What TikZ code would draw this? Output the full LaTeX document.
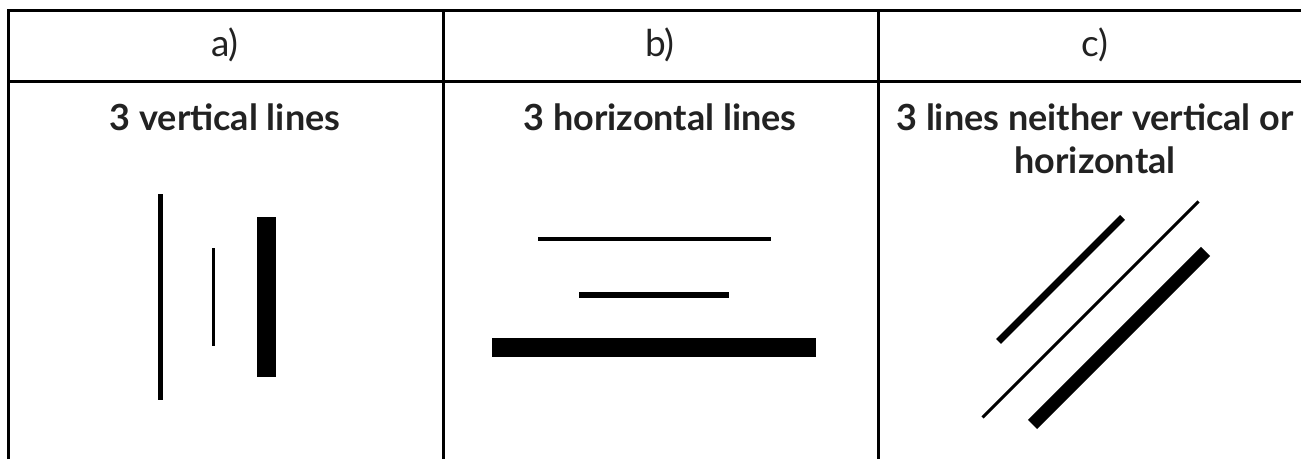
\documentclass[tikz,border=0pt]{standalone}
\usepackage{fontspec}
\setmainfont{Lato}
\usetikzlibrary{positioning}
\definecolor{ink}{HTML}{222222}
\begin{document}
\begin{tikzpicture}[x=1pt,y=-1pt,
    rule/.style={line width=3pt, black},
    head/.style={text=ink, font=\fontsize{37}{42}\selectfont},
    title/.style={text=ink, font=\fontsize{36}{43}\selectfont\bfseries, align=center},
    bar/.style={black, line cap=butt}]
  \useasboundingbox (0,0) rectangle (1301,459);
  \draw[rule] (8,459) -- (8,10) -- (1301,10);
  \draw[rule] (8,81) -- (1301,81);
  \foreach \x in {443,878}
    \draw[rule] (\x,10) -- (\x,459);

  \node[head] (ha) at (225,45) {a)};
  \node[head] (hb) at (660,45) {b)};
  \node[head] (hc) at (1095,45) {c)};

  \node[title] (ta) at (225,117) {3 vertical lines};
  \node[title] (tb) at (660,117) {3 horizontal lines};
  \node[title] (tc) at (1095,139) {3 lines neither vertical or\\horizontal};

  \draw[bar, line width=5pt] (160,194) -- (160,400);
  \draw[bar, line width=2.5pt] (213.3,248) -- (213.3,346);
  \draw[bar, line width=19pt] (266.5,217) -- (266.5,377);

  \draw[bar, line width=3.5pt] (538,239) -- (771,239);
  \draw[bar, line width=6pt] (579,294.5) -- (729,294.5);
  \draw[bar, line width=19pt] (492,347) -- (816,347);

  \draw[bar, line width=7pt] (998.5,341.5) -- (1122.5,217.5);
  \draw[bar, line width=3pt] (982.5,417.5) -- (1198.5,201.5);
  \draw[bar, line width=13pt] (1032.5,424.5) -- (1205.5,251.5);
\end{tikzpicture}
\end{document}
